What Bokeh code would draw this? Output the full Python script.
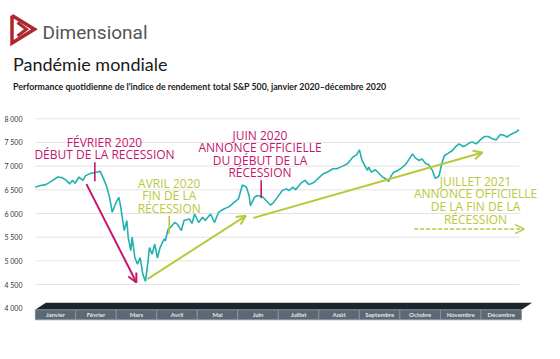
from bokeh.plotting import figure
from bokeh.layouts import column
from bokeh.models import Range1d, FixedTicker, Arrow, OpenHead
from bokeh.core.properties import value
from bokeh.embed import file_html
from bokeh.resources import INLINE

# ---------------- data ----------------
# days since 2020-01-01
days = [0, 4, 8, 12, 17, 20, 23, 26, 28, 30, 33, 36, 38, 42, 46, 49, 52, 54, 56, 58,
        61, 63, 64, 65, 67, 69, 70, 72, 73, 75, 77, 79, 81, 83, 85, 86, 88, 90, 92, 94,
        97, 98, 100, 102, 105, 107, 110, 112, 116, 118, 120, 123, 126, 128, 132, 135, 138, 142, 146, 150,
        153, 156, 159, 161, 162, 165, 167, 171, 174, 177, 179, 182, 186, 189, 191, 194, 196, 200, 203, 206,
        210, 214, 217, 220, 224, 227, 231, 235, 239, 242, 244, 246, 248, 250, 251, 253, 256, 259, 261, 264,
        266, 268, 270, 273, 275, 278, 280, 284, 286, 289, 291, 294, 296, 299, 301, 303, 304, 306, 308, 311,
        314, 316, 319, 322, 324, 327, 329, 332, 335, 338, 341, 344, 347, 350, 353, 355, 358, 360, 362, 364]
index_values = [6555, 6590, 6610, 6680, 6770, 6760, 6710, 6625, 6700, 6640, 6770, 6700, 6800, 6850, 6870, 6890, 6700, 6555, 6340, 6025,
                6240, 6340, 6200, 6025, 5640, 5850, 5500, 5215, 5500, 5070, 4930, 5070, 4720, 4565, 5000, 5280, 5140, 5355, 5060, 5280,
                5460, 5425, 5670, 5710, 5810, 5775, 5640, 5850, 5885, 5790, 5990, 5810, 5920, 5850, 5990, 5810, 6025, 6095, 6145, 6240,
                6310, 6605, 6555, 6380, 6165, 6340, 6380, 6360, 6270, 6180, 6220, 6330, 6485, 6520, 6485, 6555, 6500, 6640, 6700, 6610,
                6660, 6770, 6840, 6875, 6945, 6945, 6995, 7050, 7190, 7245, 7345, 7120, 7015, 6910, 6980, 6875, 6925, 6840, 6780, 6730,
                6675, 6800, 6875, 6910, 6945, 7015, 7085, 7260, 7175, 7120, 7155, 7050, 7035, 6910, 6745, 6770, 6800, 7050, 7225, 7275,
                7330, 7400, 7470, 7415, 7435, 7495, 7510, 7470, 7555, 7625, 7625, 7580, 7555, 7670, 7650, 7615, 7670, 7700, 7720, 7770]

months = ["Janvier", "Février", "Mars", "Avril", "Mai", "Juin", "Juillet", "Août",
          "Septembre", "Octobre", "Novembre", "Décembre"]
y_ticks = [4000, 4500, 5000, 5500, 6000, 6500, 7000, 7500, 8000]
y_tick_labels = ["4 000", "4 500", "5 000", "5 500", "6 000", "6 500", "7 000", "7 500", "8 000"]

MAGENTA = "#c4166e"
GREEN = "#bac83a"
TEAL = "#22b2ae"
FONT_ANN = value("Open Sans")

# ---------------- header ----------------
# frame aligned with the chart frame below: data x == pixel x inside the figure
header = figure(width=544, height=100, x_range=Range1d(34, 540), y_range=Range1d(92, -8),
                output_backend="svg", toolbar_location=None, x_axis_type=None, y_axis_type=None,
                min_border_left=34, min_border_right=4, min_border_top=0, min_border_bottom=0)
header.outline_line_color = None
header.grid.visible = False

header.text(x=[42], y=[23.5], text=["Dimensional"], text_font=value("Roboto"),
            text_font_size="19px", text_baseline="middle", text_color="#545557")
header.text(x=[12.5], y=[55.5], text=["Pandémie mondiale"], text_font=value("Lato"),
            text_font_size="18px", text_baseline="alphabetic", text_color="#1a1a1a")
header.text(x=[12.5], y=[77.5], text=["Performance quotidienne de l'indice de rendement total S&P 500, janvier 2020–décembre 2020"],
            text_font=value("Lato"), text_font_size="8.8px", text_font_style="bold",
            text_baseline="middle", text_color="#222222")
header.line([11.5, 11.5, 34, 11.5], [7, 34.5, 20.7, 7], line_color="#b0262d", line_width=3.5,
            line_join="miter")
header.line([17, 26, 17], [14, 20.7, 27.5], line_color="#b0262d", line_width=3, line_join="miter")
for r in header.renderers:
    r.level = "overlay"

# ---------------- chart ----------------
p = figure(width=544, height=251, x_range=Range1d(-0.5, 380.3), y_range=Range1d(3698, 8281),
           output_backend="svg", toolbar_location=None, x_axis_type=None,
           min_border_left=34, min_border_right=4, min_border_top=5, min_border_bottom=29)
p.outline_line_color = None
p.grid.visible = False

yax = p.yaxis[0]
yax.ticker = FixedTicker(ticks=y_ticks)
yax.major_label_overrides = {t: l for t, l in zip(y_ticks, y_tick_labels)}
yax.axis_line_color = None
yax.major_tick_line_color = None
yax.minor_tick_line_color = None
yax.major_label_standoff = 6
yax.major_label_text_font = "Lato"
yax.major_label_text_font_size = "7px"
yax.major_label_text_color = "#333333"

# gridlines
grid_vals = y_ticks[1:]
p.segment(x0=[0] * len(grid_vals), x1=[364.5] * len(grid_vals), y0=grid_vals, y1=grid_vals,
          line_color="#e4e4e4", line_width=1)

# month strip
n = len(months)
span = 366 / n
left = [i * span for i in range(n)]
right = [(i + 1) * span for i in range(n)]
centers = [(i + 0.5) * span for i in range(n)]
p.patch([0, 8, 374, 366], [3966, 4114, 4114, 3966], fill_color="#1d252c", line_color=None)
p.quad(left=left, right=right, bottom=3755, top=3966, fill_color="#5c6873",
       line_color="#8d979f", line_width=0.8)
p.text(x=centers, y=[3860] * n, text=months, text_align="center", text_baseline="middle",
       text_font=value("Lato"), text_font_size="6px", text_font_style="bold", text_color="#e2e6ea")

# series
p.line(days, index_values, line_color=TEAL, line_width=1.6)

# tick marks
p.segment(x0=[44.9, 170.1], x1=[44.9, 170.1], y0=[6683, 6320], y1=[7085, 6702],
          line_color=MAGENTA, line_width=1.6)
p.segment(x0=[100.9], x1=[100.9], y0=[5568], y1=[5953], line_color=GREEN, line_width=1.6)

# arrows
p.add_layout(Arrow(end=OpenHead(size=9, line_color=MAGENTA, line_width=2),
                   x_start=38.6, y_start=6621, x_end=76.2, y_end=4543,
                   line_color=MAGENTA, line_width=2))
p.add_layout(Arrow(end=OpenHead(size=9, line_color=GREEN, line_width=2),
                   x_start=84.5, y_start=4615, x_end=158.5, y_end=5951,
                   line_color=GREEN, line_width=2))
p.add_layout(Arrow(end=OpenHead(size=9, line_color=GREEN, line_width=2),
                   x_start=164.3, y_start=5906, x_end=336.6, y_end=7288,
                   line_color=GREEN, line_width=2))
p.add_layout(Arrow(end=OpenHead(size=9, line_color=GREEN, line_width=1.5),
                   x_start=285.2, y_start=5671, x_end=368.0, y_end=5671,
                   line_color=GREEN, line_width=1.5, line_dash="4 2"))

# annotation texts
mag_x = [52.2, 52.2, 169.2, 169.2, 169.2, 169.2]
mag_y = [7500, 7254, 7656, 7392, 7128, 6864]
mag_t = ["FÉVRIER 2020", "DÉBUT DE LA RECESSION", "JUIN 2020", "ANNONCE OFFICIELLE",
         "DU DÉBUT DE LA", "RÉCESSION"]
p.text(x=mag_x, y=mag_y, text=mag_t, text_align="center", text_baseline="middle",
       text_font=FONT_ANN, text_font_size="12px", text_color=MAGENTA)

grn_x = [100.9, 100.9, 100.9, 331.4, 331.4, 331.4, 331.4]
grn_y = [6642, 6374, 6114, 6676, 6422, 6148, 5882]
grn_t = ["AVRIL 2020", "FIN DE LA", "RÉCESSION", "JUILLET 2021", "ANNONCE OFFICIELLE",
         "DE LA FIN DE LA", "RÉCESSION"]
p.text(x=grn_x, y=grn_y, text=grn_t, text_align="center", text_baseline="middle",
       text_font=FONT_ANN, text_font_size="12px", text_color=GREEN)

layout = column(header, p, spacing=0)
open("out.html", "w").write(file_html(layout, INLINE))
